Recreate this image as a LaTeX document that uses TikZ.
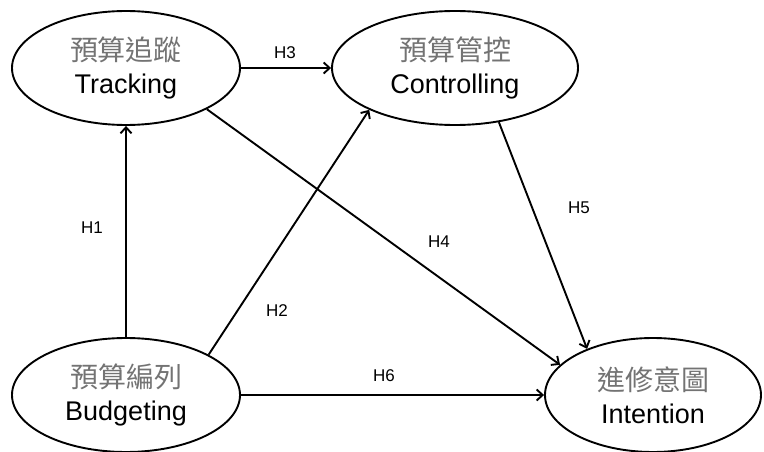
\documentclass[tikz,border=0pt]{standalone}
\usepackage{fontspec}
\setmainfont{Liberation Sans}
\newfontfamily\cjk{Noto Sans CJK TC}
\usetikzlibrary{shapes.geometric,arrows.meta}

\begin{document}
\begin{tikzpicture}[x=1pt,y=-1pt,line width=1.9pt,
  every node/.style={font=\fontsize{17}{20}\selectfont},
  var/.style={draw,ellipse,inner sep=0pt,align=center,minimum height=114pt,
    font=\fontsize{27}{33}\selectfont},
  link/.style={-{Straight Barb[length=6pt,width=11pt,line width=1.9pt]}}]
\useasboundingbox (0,0) rectangle (764,452);
\newcommand{\zh}[1]{{\cjk\color{black!55}\fontsize{28}{33}\selectfont #1}}

\node[var,minimum width=228pt] (v1) at (126,68) {\zh{預算追蹤}\\Tracking};
\node[var,minimum width=246pt] (v2) at (455,68) {\zh{預算管控}\\Controlling};
\node[var,minimum width=228pt] (v3) at (126,395) {\zh{預算編列}\\Budgeting};
\node[var,minimum width=216pt] (v4) at (653,395) {\zh{進修意圖}\\Intention};

\draw[link] (v3.90) -- (v1.270);
\draw[link] (v3.26) -- (v2.206);
\draw[link] (v1.0) -- (v2.180);
\draw[link] (v1.333) -- (v4.162);
\draw[link] (v2.309) -- (v4.145);
\draw[link] (v3.0) -- (v4.180);

\node (h1) at (92,228) {H1};
\node (h2) at (277,311) {H2};
\node (h3) at (285,53) {H3};
\node (h4) at (439,242) {H4};
\node (h5) at (579,208) {H5};
\node (h6) at (384,376) {H6};
\end{tikzpicture}
\end{document}
